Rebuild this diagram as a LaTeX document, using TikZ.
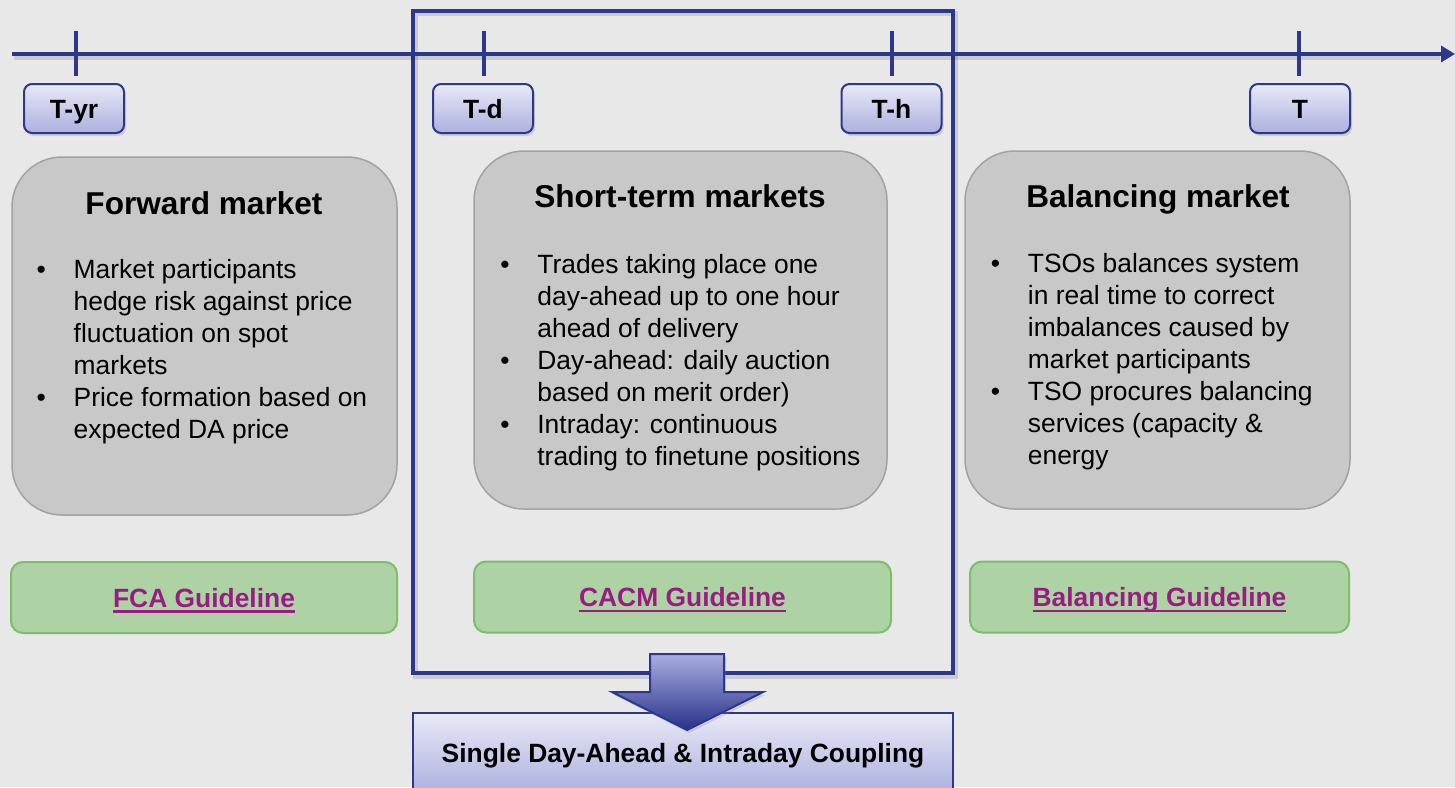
\documentclass[tikz,border=0pt]{standalone}
\usepackage{fontspec}
\setmainfont{Liberation Sans}
\usetikzlibrary{arrows.meta,shadows}
\definecolor{tlblue}{RGB}{44,56,140}
\definecolor{bggray}{RGB}{232,232,232}
\definecolor{mktfill}{RGB}{200,200,200}
\definecolor{mktline}{RGB}{162,162,162}
\definecolor{gdfill}{RGB}{173,211,165}
\definecolor{gdline}{RGB}{125,189,108}
\definecolor{gdtext}{RGB}{155,27,132}
\definecolor{tagtop}{RGB}{233,233,247}
\definecolor{tagbot}{RGB}{172,176,222}
\definecolor{arrtop}{RGB}{170,174,224}
\definecolor{arrbot}{RGB}{40,48,138}
\newcommand{\gdlink}[1]{\setbox0\hbox{#1}\rlap{\raisebox{-2.8pt}{\rule{\wd0}{1.3pt}}}\box0}
\begin{document}
\begin{tikzpicture}[x=0.5pt,y=-0.5pt,
  axis/.style={draw=tlblue, line width=2pt},
  tick/.style={draw=tlblue, line width=2pt},
  shd/.style={draw=black, opacity=0.12, line width=2.5pt},
  tag/.style={draw=tlblue, line width=1pt, rounded corners=4pt, top color=tagtop, bottom color=tagbot,
    minimum width=50pt, minimum height=24.5pt, inner sep=0pt, text height=9.5pt, text depth=0pt,
    font=\fontsize{13.2}{16}\selectfont\bfseries,
    drop shadow={shadow xshift=1pt, shadow yshift=-1.5pt, opacity=0.25}},
  mkt/.style={draw=mktline, line width=0.75pt, fill=mktfill, rounded corners=25pt, minimum height=179pt},
  ttl/.style={anchor=base, inner sep=0pt, font=\fontsize{15.8}{19}\selectfont\bfseries},
  blt/.style={anchor=base west, inner sep=0pt, font=\fontsize{13.2}{16}\selectfont},
  gd/.style={draw=gdline, line width=1pt, fill=gdfill, rounded corners=6pt, minimum height=35.5pt,
    inner sep=0pt, text height=9.5pt, text depth=0pt, text=gdtext,
    font=\fontsize{13.2}{16}\selectfont\bfseries},
  sdac/.style={draw=tlblue, line width=1pt, top color=tagtop, bottom color=tagbot,
    minimum width=270pt, minimum height=40pt, inner sep=0pt, text height=9.5pt, text depth=0pt,
    font=\fontsize{13.2}{16}\selectfont\bfseries},
  blkarrow/.style={draw=tlblue, line width=1pt, top color=arrtop, bottom color=arrbot,
    drop shadow={shadow xshift=1pt, shadow yshift=-1.5pt, opacity=0.25}}]
\useasboundingbox (0,0) rectangle (1455,787);
\clip (0,0) rectangle (1455,787);
\fill[bggray] (0,0) rectangle (1455,787);
\draw[shd] (415,13.5) rectangle (955,676);
\draw[tlblue, line width=2pt] (413,10.5) rectangle (953,673);
\coordinate (tl0) at (12,54);
\coordinate (tl1) at (1455,54);
\draw[shd] (14,57.5) -- (1440,57.5);
\draw[axis, -{Triangle[length=7pt,width=8pt]}] (tl0) -- (tl1);
\node[tag] (tyr) at (74,108.5){T-yr};
\node[tag] (td) at (483,108.5){T-d};
\node[tag] (th) at (891.5,108.5){T-h};
\node[tag] (t) at (1300,108.5){T};
\draw[tick] (tyr.north) ++(2,-7) -- ++(0,-45);
\draw[tick] (td.north) ++(1,-7) -- ++(0,-45);
\draw[tick] (th.north) ++(0,-7) -- ++(0,-45);
\draw[tick] (t.north) ++(-1,-7) -- ++(0,-45);
\node[mkt, minimum width=192.5pt] (fwd) at (204.5,336){};
\node[mkt, minimum width=206.5pt] (stm) at (680.5,330){};
\node[mkt, minimum width=192.5pt] (bal) at (1157.5,330){};
\node[ttl] (fwdttl) at (204,214){Forward market};
\node[ttl] (stmttl) at (680,207){Short-term markets};
\node[ttl] (balttl) at (1158,207){Balancing market};
\node[blt] (fwdtxt) at (36.3,278){\begin{tabular}[t]{@{}p{18.5pt}@{}l@{}}
\textbullet & Market participants\\
 & hedge risk against price\\
 & fluctuation on spot\\
 & markets\\
\textbullet & Price formation based on\\
 & expected DA price
\end{tabular}};
\node[blt] (stmtxt) at (500,273){\begin{tabular}[t]{@{}p{18.5pt}@{}l@{}}
\textbullet & Trades taking place one\\
 & day-ahead up to one hour\\
 & ahead of delivery\\
\textbullet & Day-ahead: daily auction\\
 & based on merit order)\\
\textbullet & Intraday: continuous\\
 & trading to finetune positions
\end{tabular}};
\node[blt] (baltxt) at (990.5,272){\begin{tabular}[t]{@{}p{18.5pt}@{}l@{}}
\textbullet & TSOs balances system\\
 & in real time to correct\\
 & imbalances caused by\\
 & market participants\\
\textbullet & TSO procures balancing\\
 & services (capacity \&\\
 & energy
\end{tabular}};
\node[gd, minimum width=193pt] (fca) at (204,597.5){\gdlink{FCA Guideline}};
\node[gd, minimum width=208.5pt] (cacm) at (682.5,597){\gdlink{CACM Guideline}};
\node[gd, minimum width=189.5pt] (bgl) at (1159.5,597){\gdlink{Balancing Guideline}};
\node[sdac] (sdac) at (683,753){Single Day-Ahead \& Intraday Coupling};
\draw[blkarrow] (650,654) -- (724,654) -- (724,692) -- (763,692) -- (687,730) -- (612,692) -- (650,692) -- cycle;
\end{tikzpicture}
\end{document}
